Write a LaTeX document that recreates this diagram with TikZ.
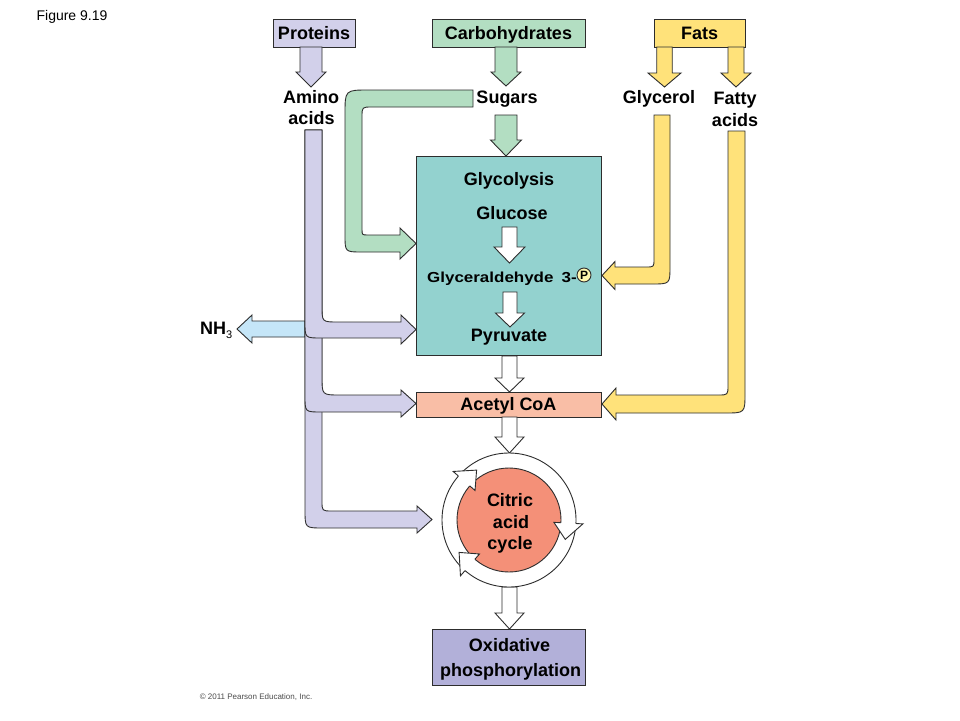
\documentclass[tikz,border=0pt]{standalone}
\usepackage{fontspec}
\setmainfont{Liberation Sans}
\usetikzlibrary{calc}
\definecolor{protfill}{RGB}{210,208,234}
\definecolor{carbfill}{RGB}{179,222,194}
\definecolor{fatfill}{RGB}{255,226,122}
\definecolor{glycfill}{RGB}{147,210,207}
\definecolor{acetfill}{RGB}{249,190,166}
\definecolor{citfill}{RGB}{244,144,120}
\definecolor{oxfill}{RGB}{178,176,217}
\definecolor{nhfill}{RGB}{197,230,248}
\definecolor{pfill}{RGB}{255,246,174}
\definecolor{edge}{RGB}{45,45,45}
\newcommand\mybf{\fontsize{18}{21}\selectfont\bfseries}
% straight downward block arrow: cx, top, head start, tip, half shaft, half head, fill
\newcommand\dnarr[7]{\draw[blk,fill=#7] ({#1-#5},#2) -- ({#1-#5},#3) -- ({#1-#6},#3) -- (#1,#4) -- ({#1+#6},#3) -- ({#1+#5},#3) -- ({#1+#5},#2) -- cycle;}
\begin{document}
\begin{tikzpicture}[x=1pt,y=-1pt,
  box/.style={draw=edge,line width=0.9pt,inner sep=0pt,font=\mybf,text height=12.9pt,text depth=0pt},
  blk/.style={draw=edge,line width=0.9pt,line join=miter},
  lbl/.style={font=\mybf,inner sep=0pt,anchor=base}]
\useasboundingbox (0,0) rectangle (960,720);
\fill[white] (0,0) rectangle (960,720);

% ---- boxes
\node[box,fill=glycfill,minimum width=185pt,minimum height=199pt] (glyc) at (508.5,255.5) {};
\node[box,fill=acetfill,minimum width=185pt,minimum height=25pt] (acet) at (508.5,404.5) {Acetyl CoA};
\node[box,fill=oxfill,minimum width=153pt,minimum height=56pt] (oxid) at (508.5,657) {};
\node[box,fill=protfill,minimum width=82pt,minimum height=28pt] (prot) at (314,33) {Proteins};
\node[box,fill=carbfill,minimum width=153pt,minimum height=28pt] (carb) at (508.5,33) {Carbohydrates};
\node[box,fill=fatfill,minimum width=91pt,minimum height=28pt] (fats) at (699.5,33) {Fats};

% ---- green bent arrow (sugars -> glycolysis)
\draw[blk,fill=carbfill] (473,90) -- (369,90) .. controls (345,90) .. (345,114)
  -- (345,235) .. controls (345,252) .. (362,252) -- (400,252) -- (400,259) -- (416,243.5)
  -- (400,228) -- (400,235) -- (368,235) .. controls (362,235) .. (362,229)
  -- (362,117) .. controls (362,107) .. (372,107) -- (473,107) -- cycle;

% ---- NH3 arrow
\draw[blk,fill=nhfill] (305,321) -- (252,321) -- (252,315) -- (237,329) -- (252,343) -- (252,337) -- (305,337) -- cycle;

% ---- purple amino acid arrows
\draw[blk,fill=protfill] (305,130) -- (305,510) .. controls (305,528) .. (323,528) -- (417,528)
  -- (417,533) -- (432,519.5) -- (417,506) -- (417,511) -- (332,511) .. controls (322,511) .. (322,501)
  -- (322,130) -- cycle;
\draw[blk,fill=protfill] (305,130) -- (305,396) .. controls (305,412) .. (321,412) -- (401,412)
  -- (401,417) -- (416,403.5) -- (401,390) -- (401,395) -- (340,395) .. controls (322,395) .. (322,377)
  -- (322,130) -- cycle;
\draw[blk,fill=protfill] (305,130) -- (305,322) .. controls (305,338) .. (321,338) -- (401,338)
  -- (401,344) -- (416,329.5) -- (401,315) -- (401,322) -- (338,322) .. controls (322,322) .. (322,306)
  -- (322,130) -- cycle;

% ---- yellow arrows
\draw[blk,fill=fatfill] (654,115) -- (670,115) -- (670,266) .. controls (670,284) .. (652,284)
  -- (615,284) -- (615,289.5) -- (602,275.5) -- (615,261.5) -- (615,267) -- (646,267)
  .. controls (654,267) .. (654,259) -- cycle;
\draw[blk,fill=fatfill] (728,131) -- (745,131) -- (745,393) .. controls (745,413) .. (725,413)
  -- (616,413) -- (616,420) -- (602,404) -- (616,388) -- (616,395) -- (718,395)
  .. controls (728,395) .. (728,385) -- cycle;

% ---- straight arrows
\dnarr{311}{47}{72}{87}{11}{15}{protfill}
\dnarr{506}{47}{72}{86}{11}{15}{carbfill}
\dnarr{506}{115}{140}{156}{11}{15.5}{carbfill}
\dnarr{664.5}{47}{73}{87}{7.75}{16.5}{fatfill}
\dnarr{736}{47}{73}{87}{8}{15}{fatfill}
\dnarr{509.5}{227}{247}{263}{7.5}{15.5}{white}
\dnarr{510}{292}{313}{327}{7}{14.5}{white}
\dnarr{509.5}{356}{378}{392}{7.5}{14.5}{white}
\dnarr{509.5}{417}{437}{453}{7.5}{14.5}{white}
\dnarr{509.5}{587}{613}{629}{7.5}{14.5}{white}

% ---- citric acid cycle
\coordinate (cc) at (509,520);
\node[circle,draw=edge,line width=0.9pt,fill=white,minimum size=134pt,inner sep=0pt] (ring) at (cc) {};
\node[circle,draw=edge,line width=0.9pt,fill=citfill,minimum size=104pt,inner sep=0pt] (cit) at (cc) {};
\foreach \tp/\bs in {-123/-139, 19/3, -213/-229}{
  \fill[white] ($(cc)+(\bs:52)$) -- ($(cc)+(\bs:45)$) -- ($(cc)+(\tp:59.5)$) -- ($(cc)+(\bs:74)$) -- ($(cc)+(\bs:67)$) -- cycle;
  \draw[blk] ($(cc)+(\bs:67)$) -- ($(cc)+(\bs:74)$) -- ($(cc)+(\tp:59.5)$) -- ($(cc)+(\bs:45)$) -- ($(cc)+(\bs:52)$);
}

% ---- labels
\node[lbl] (amino1) at (311,103.5) {Amino};
\node[lbl] (amino2) at (311.5,124.5) {acids};
\node[lbl] (sugars) at (507,103.5) {Sugars};
\node[lbl] (glycerol) at (659,103.5) {Glycerol};
\node[lbl] (fatty1) at (735,104.5) {Fatty};
\node[lbl] (fatty2) at (735,126.5) {acids};
\node[lbl] (glyclbl) at (509,185.5) {Glycolysis};
\node[lbl] (glucose) at (512,219.5) {Glucose};
\node[inner sep=0pt,anchor=base east,font=\fontsize{14.5}{17}\selectfont\bfseries] (g3p) at (577,282) {\scalebox{1.17}[1]{Glyceraldehyde\hspace{7pt}3-}};
\node[circle,draw=edge,line width=0.9pt,fill=pfill,minimum size=14pt,inner sep=0pt,font=\fontsize{12}{12}\selectfont\bfseries] (pcirc) at (584,275) {P};
\node[lbl] (pyr) at (509,341.5) {Pyruvate};
\node[lbl,anchor=base west] (nh3) at (200,334.5) {NH\raisebox{-4pt}{\fontsize{11}{11}\selectfont\mdseries 3}};
\node[lbl] (cit1) at (510,506.5) {Citric};
\node[lbl] (cit2) at (511,528.5) {acid};
\node[lbl] (cit3) at (510,549.5) {cycle};
\node[lbl] (ox1) at (509.5,651.5) {Oxidative};
\node[lbl] (ox2) at (510.5,676.5) {phosphorylation};
\node[inner sep=0pt,anchor=base,font=\fontsize{14}{16}\selectfont] (fig) at (72,20) {Figure 9.19};
\node[inner sep=0pt,anchor=base,font=\fontsize{8}{9}\selectfont,text=black!70] (copy) at (256,699) {\textcopyright\ 2011 Pearson Education, Inc.};
\end{tikzpicture}
\end{document}
